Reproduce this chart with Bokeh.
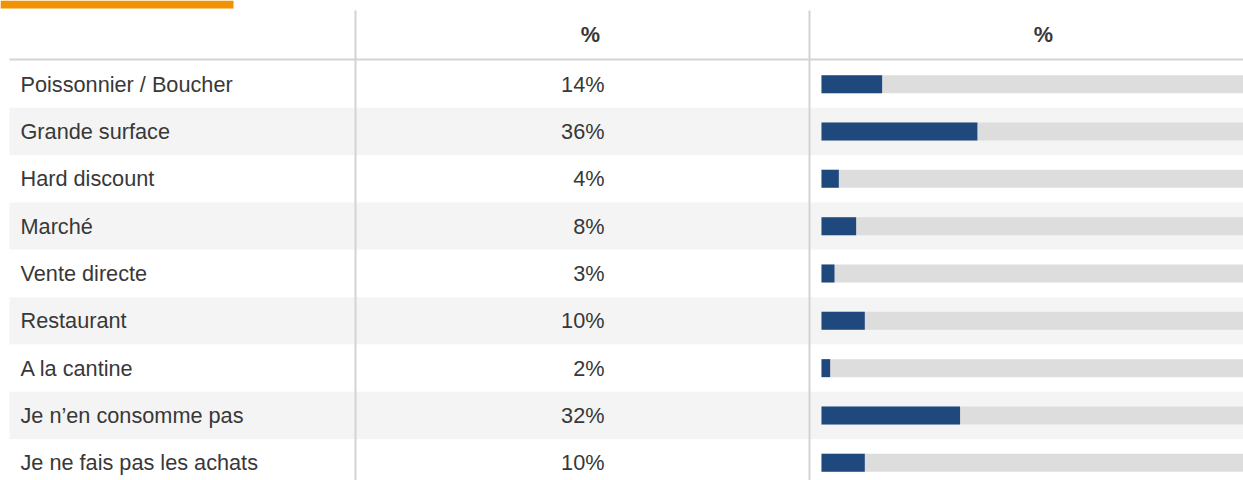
from bokeh.plotting import figure
from bokeh.models import Range1d, ColumnDataSource
from bokeh.core.properties import value
from bokeh.embed import file_html
from bokeh.resources import INLINE

# Where people buy / eat this product (share of respondents, %)
categories = [
    "Poissonnier / Boucher",
    "Grande surface",
    "Hard discount",
    "Marché",
    "Vente directe",
    "Restaurant",
    "A la cantine",
    "Je n\u2019en consomme pas",
    "Je ne fais pas les achats",
]
shares = [14, 36, 4, 8, 3, 10, 2, 32, 10]
col_headers = ["%", "%"]

W, H = 1243, 480
FONT = value("Liberation Sans")
TEXT_COLOR = "#383838"
FONT_SIZE = "21.7px"

# table geometry (pixels)
table_left = 9
header_top, header_bottom = 10, 59
row_top, row_h = 60, 47.33
col1_x, col2_x = 355, 809
pct_right = 604
header_x = [590, 1043]
bar_zero, px_per_pct = 821, 4.33
bar_h = 18

n = len(categories)
row_mid = [row_top + (i + 0.5) * row_h for i in range(n)]
row_lo = [row_top + i * row_h for i in range(n)]
row_hi = [row_top + (i + 1) * row_h for i in range(n)]

src = ColumnDataSource(dict(
    cat=categories,
    share=shares,
    label=[f"{v}%" for v in shares],
    y=row_mid,
    lo=row_lo,
    hi=row_hi,
    full=[100] * n,
    zero=[0] * n,
    fill=["#ffffff" if i % 2 == 0 else "#f4f4f4" for i in range(n)],
))

p = figure(width=W, height=H, output_backend="svg", toolbar_location=None,
           x_range=Range1d(0, W), y_range=Range1d(H, 0),
           min_border=0, outline_line_color=None, background_fill_color="white")
p.axis.visible = False
p.grid.visible = False

# percentage scale for the bar column: 0% sits at bar_zero
p.extra_x_ranges = {"pct": Range1d(-bar_zero / px_per_pct, (W - bar_zero) / px_per_pct)}

# striped row backgrounds
p.quad(left=table_left, right=W, bottom="hi", top="lo", fill_color="fill",
       line_color=None, source=src)

# orange accent on top
p.quad(left=0, right=233, top=0, bottom=8, fill_color="#f39200", line_color=None)

# grid lines of the table
p.segment(x0=table_left, y0=header_bottom, x1=W, y1=header_bottom,
          line_color="#d3d3d3", line_width=2)
p.segment(x0=[col1_x, col2_x], y0=header_top, x1=[col1_x, col2_x], y1=H,
          line_color="#d3d3d3", line_width=2)

# headers
p.text(x=header_x, y=[33.5, 33.5], text=col_headers,
       text_font=FONT, text_font_size=FONT_SIZE, text_font_style="bold",
       text_color=TEXT_COLOR, text_align="center", text_baseline="middle")

# row labels and values
p.text(x=20, y="y", text="cat", source=src, text_font=FONT, text_font_size=FONT_SIZE,
       text_color=TEXT_COLOR, text_align="left", text_baseline="middle")
p.text(x=pct_right, y="y", text="label", source=src, text_font=FONT,
       text_font_size=FONT_SIZE, text_color=TEXT_COLOR, text_align="right",
       text_baseline="middle")

# bar tracks and bars
p.hbar(y="y", left="zero", right="full", height=bar_h, source=src,
       x_range_name="pct", fill_color="#dddddd", line_color=None)
p.hbar(y="y", left="zero", right="share", height=bar_h, source=src,
       x_range_name="pct", fill_color="#1f497d", line_color=None)

open("out.html", "w").write(file_html(p, INLINE))
